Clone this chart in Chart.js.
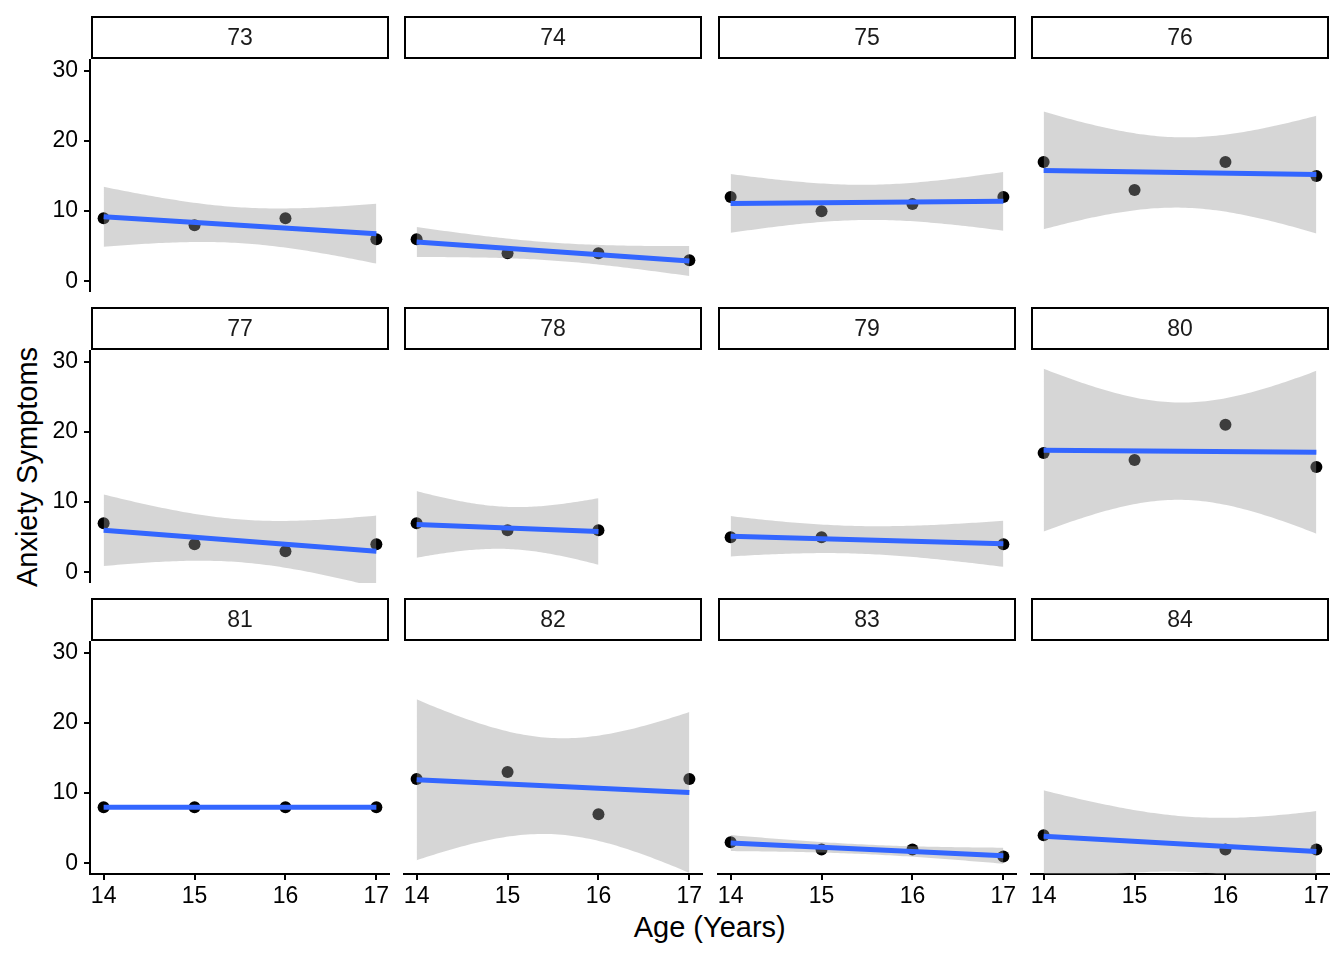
<!DOCTYPE html>
<html>
<head>
<meta charset="utf-8">
<script src="https://cdn.jsdelivr.net/npm/chart.js@4.4.1/dist/chart.umd.min.js"></script>
<style>
  html, body { margin: 0; padding: 0; background: #fff; }
  body { width: 1344px; height: 960px; position: relative; overflow: hidden; font-family: 'Liberation Sans', Arial, sans-serif; }
  .panel { position: absolute; }
  .axis-title { position: absolute; font-size: 29px; line-height: 29px; color: #000; white-space: nowrap; }
  #xtitle { left: 709.75px; top: 913px; transform: translateX(-50%); }
  #ytitle { left: 27px; top: 467px; transform: translate(-50%, -50%) rotate(-90deg); }
</style>
</head>
<body>
<div class="axis-title" id="xtitle">Age (Years)</div>
<div class="axis-title" id="ytitle">Anxiety Symptoms</div>
<script>
  // one entry per participant (facet)
  const participants = ['73', '74', '75', '76', '77', '78', '79', '80', '81', '82', '83', '84'];
  const ages = [
    [14, 15, 16, 17], [14, 15, 16, 17], [14, 15, 16, 17], [14, 15, 16, 17],
    [14, 15, 16, 17], [14, 15, 16],     [14, 15, 17],     [14, 15, 16, 17],
    [14, 15, 16, 17], [14, 15, 16, 17], [14, 15, 16, 17], [14, 16, 17]
  ];
  const anxiety = [
    [9, 8, 9, 6],     [6, 4, 4, 3],     [12, 10, 11, 12], [17, 13, 17, 15],
    [7, 4, 3, 4],     [7, 6, 6],        [5, 5, 4],        [17, 16, 21, 15],
    [8, 8, 8, 8],     [12, 13, 7, 12],  [3, 2, 2, 1],     [4, 2, 2]
  ];
  const xTicks = [14, 15, 16, 17];
  const yTicks = [0, 10, 20, 30];

  // 97.5% t quantiles by residual degrees of freedom (lm 95% CI, as geom_smooth)
  const tCrit = [NaN, 12.706, 4.303];

  const PANEL_W = 300;
  const PANEL_H = 232;
  const STRIP_H = 44;
  const AX_W = 90;
  const AX_H = 40;
  const colLeft = [90, 403, 717, 1030];
  const rowTop = [60, 351, 642];

  Chart.defaults.font.family = "'Liberation Sans', Arial, sans-serif";
  Chart.defaults.animation = false;

  const stripPlugin = {
    id: 'strip',
    afterDraw(chart, args, opts) {
      const { ctx, chartArea: a } = chart;
      ctx.save();
      ctx.fillStyle = '#fff';
      ctx.fillRect(a.left + 2, 1, a.width - 4, 41);
      ctx.strokeStyle = '#000';
      ctx.lineWidth = 2;
      ctx.strokeRect(a.left + 2, 1, a.width - 4, 41);
      ctx.fillStyle = '#1a1a1a';
      ctx.font = "23px 'Liberation Sans', Arial, sans-serif";
      ctx.textAlign = 'center';
      ctx.textBaseline = 'middle';
      ctx.fillText(opts.label, (a.left + a.right) / 2, 23);
      ctx.restore();
    }
  };

  function fitLm(xs, ys) {
    const n = xs.length;
    const mx = xs.reduce((s, v) => s + v, 0) / n;
    const my = ys.reduce((s, v) => s + v, 0) / n;
    let sxx = 0, sxy = 0;
    xs.forEach((x, i) => {
      sxx += (x - mx) * (x - mx);
      sxy += (x - mx) * (ys[i] - my);
    });
    const slope = sxy / sxx;
    const icept = my - slope * mx;
    let sse = 0;
    xs.forEach((x, i) => {
      const r = ys[i] - (icept + slope * x);
      sse += r * r;
    });
    const s = Math.sqrt(sse / (n - 2));
    return { n, mx, sxx, slope, icept, s, t: tCrit[n - 2] };
  }

  function smooth(xs, ys) {
    const fit = fitLm(xs, ys);
    const lo = Math.min(...xs), hi = Math.max(...xs);
    const line = [], upper = [], lower = [];
    const steps = 80;
    for (let k = 0; k < steps; k++) {
      const x = lo + (hi - lo) * k / (steps - 1);
      const yhat = fit.icept + fit.slope * x;
      const se = fit.s * Math.sqrt(1 / fit.n + (x - fit.mx) * (x - fit.mx) / fit.sxx);
      line.push({ x, y: yhat });
      upper.push({ x, y: yhat + fit.t * se });
      lower.push({ x, y: yhat - fit.t * se });
    }
    return { line, upper, lower };
  }

  function createPanel(idx) {
    const row = Math.floor(idx / 4);
    const col = idx % 4;
    const showY = col === 0;
    const showX = row === 2;

    const wrap = document.createElement('div');
    wrap.className = 'panel';
    wrap.style.left = (colLeft[col] - (showY ? AX_W : 0)) + 'px';
    wrap.style.top = (rowTop[row] - STRIP_H) + 'px';
    wrap.style.width = (PANEL_W + (showY ? AX_W : 0)) + 'px';
    wrap.style.height = (STRIP_H + PANEL_H + (showX ? AX_H : 0)) + 'px';
    const canvas = document.createElement('canvas');
    wrap.appendChild(canvas);
    document.body.appendChild(wrap);

    const xs = ages[idx];
    const ys = anxiety[idx];
    const sm = smooth(xs, ys);

    new Chart(canvas.getContext('2d'), {
      type: 'line',
      data: {
        datasets: [{
          data: xs.map((x, i) => ({ x, y: ys[i] })),
          showLine: false,
          pointRadius: 6,
          pointBackgroundColor: '#000',
          pointBorderWidth: 0,
          order: 4
        }, {
          data: sm.lower,
          borderColor: 'rgba(0,0,0,0)',
          borderWidth: 0,
          pointRadius: 0,
          fill: false,
          order: 3
        }, {
          data: sm.upper,
          borderColor: 'rgba(0,0,0,0)',
          borderWidth: 0,
          pointRadius: 0,
          fill: '-1',
          backgroundColor: 'rgba(153,153,153,0.4)',
          order: 2
        }, {
          data: [sm.line[0], sm.line[sm.line.length - 1]],
          borderColor: '#3366FF',
          borderWidth: 5,
          borderCapStyle: 'butt',
          pointRadius: 0,
          fill: false,
          order: 1
        }]
      },
      options: {
        responsive: true,
        maintainAspectRatio: false,
        events: [],
        layout: { autoPadding: false, padding: { top: STRIP_H, left: 0, right: 0, bottom: 0 } },
        scales: {
          x: {
            type: 'linear',
            min: 13.85,
            max: 17.15,
            display: showX,
            afterBuildTicks: s => { s.ticks = xTicks.map(v => ({ value: v })); },
            afterFit: s => {
              if (showX) s.height = AX_H;
              s.paddingLeft = 0;
              s.paddingRight = 0;
            },
            border: { display: true, color: '#000', width: 2 },
            grid: { display: true, drawOnChartArea: false, drawTicks: true, tickLength: 6, color: '#000', lineWidth: 2 },
            ticks: { color: '#000', font: { size: 23 }, padding: 3, maxRotation: 0, autoSkip: false }
          },
          y: {
            type: 'linear',
            min: -1.5,
            max: 31.5,
            display: showY,
            afterBuildTicks: s => { s.ticks = yTicks.map(v => ({ value: v })); },
            afterFit: s => {
              if (showY) s.width = AX_W;
              s.paddingTop = 0;
              s.paddingBottom = 0;
            },
            border: { display: true, color: '#000', width: 2 },
            grid: { display: true, drawOnChartArea: false, drawTicks: true, tickLength: 6, color: '#000', lineWidth: 2 },
            ticks: { color: '#000', font: { size: 23 }, padding: 6 }
          }
        },
        plugins: {
          legend: { display: false },
          tooltip: { enabled: false },
          strip: { label: participants[idx] }
        }
      },
      plugins: [stripPlugin]
    });
  }

  participants.forEach((p, i) => createPanel(i));
</script>
</body>
</html>
